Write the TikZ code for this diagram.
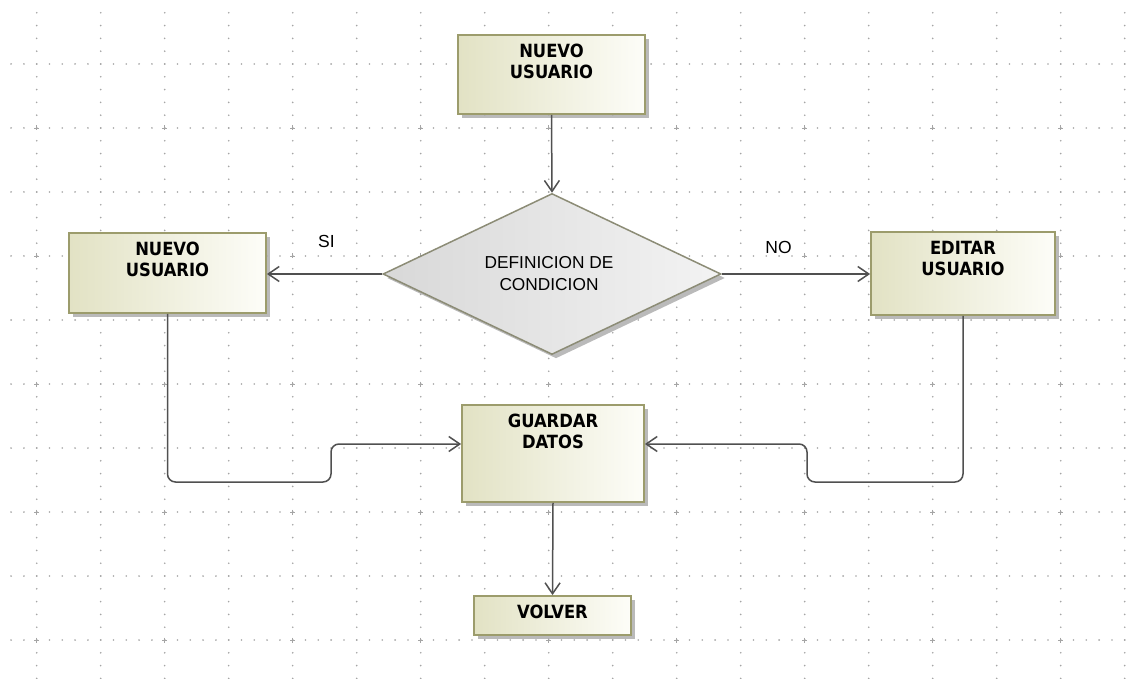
\documentclass[tikz,border=0pt]{standalone}
\usepackage{fontspec}
\setmainfont{Liberation Sans}
\newfontfamily\condbold{DejaVu Sans Condensed}[BoldFont={* Bold}]
\usetikzlibrary{shapes.geometric,arrows.meta,shadows}
\definecolor{dotc}{RGB}{165,165,165}
\definecolor{boxedge}{RGB}{156,156,108}
\definecolor{boxl}{RGB}{226,226,196}
\definecolor{boxr}{RGB}{253,253,248}
\definecolor{diaedge}{RGB}{140,140,118}
\definecolor{dial}{RGB}{216,216,216}
\definecolor{diar}{RGB}{243,243,243}
\definecolor{linec}{RGB}{80,80,80}
\definecolor{shadowc}{RGB}{175,175,175}
\begin{document}
\begin{tikzpicture}[x=1pt,y=-1pt,
  box/.style={rectangle, draw=boxedge, line width=1.8pt, left color=boxl, right color=boxr,
    inner sep=0pt, drop shadow={shadow xshift=4pt, shadow yshift=-4pt, fill=shadowc, opacity=0.85}},
  boxtext/.style={anchor=north, inner sep=0pt, yshift=-9.5pt, align=center,
    font=\condbold\fontsize{18.2}{21.5}\selectfont\bfseries},
  decision/.style={diamond, draw=diaedge, line width=1.5pt, left color=dial, right color=diar,
    inner sep=0pt, minimum width=338pt, minimum height=161pt, align=center,
    font=\fontsize{17.3}{22}\selectfont,
    drop shadow={shadow xshift=4pt, shadow yshift=-4pt, fill=shadowc, opacity=0.85}},
  lbl/.style={inner sep=0pt, anchor=base, font=\fontsize{17.5}{21}\selectfont},
  conn/.style={draw=linec, line width=1.5pt, -{Straight Barb[length=11pt,width=15pt]}},
  elbow/.style={conn, rounded corners=8pt}
]
\useasboundingbox (0,0) rectangle (1128,679);
\fill[white] (0,0) rectangle (1128,679);
% dotted grid
\foreach \i in {0,...,17}{
  \foreach \j in {1,...,53}{
    \fill[dotc] ({36.7+64*\i},{12.8*\j}) circle[radius=0.9];
  }
}
\foreach \j in {1,...,10}{
  \foreach \k in {0,...,87}{
    \fill[dotc] ({11.1+12.8*\k},{64*\j}) circle[radius=0.9];
  }
}
\foreach \i in {0,...,8}{
  \foreach \j in {1,...,5}{
    \draw[dotc, line width=0.9pt] ({36.7+128*\i-2.5},{128*\j}) -- ({36.7+128*\i+2.5},{128*\j})
      ({36.7+128*\i},{128*\j-2.5}) -- ({36.7+128*\i},{128*\j+2.5});
  }
}
% nodes
\node[box, minimum width=187pt, minimum height=79pt, label={[boxtext]north:{NUEVO\\USUARIO}}] (nt) at (551.5,74.5) {};
\node[decision] (dia) at (552,274) {\hspace*{-6pt}DEFINICION DE\\\hspace*{-6pt}CONDICION};
\node[box, minimum width=197pt, minimum height=80pt, label={[boxtext]north:{NUEVO\\USUARIO}}] (nl) at (167.5,273) {};
\node[box, minimum width=184pt, minimum height=83pt, label={[boxtext]north:{EDITAR\\USUARIO}}] (ne) at (963,273.5) {};
\node[box, minimum width=182pt, minimum height=97pt, label={[boxtext]north:{GUARDAR\\DATOS}}] (gd) at (553,453.5) {};
\node[box, minimum width=157pt, minimum height=39pt, label={[boxtext]north:{VOLVER}}] (vo) at (552.5,615.5) {};
\node[lbl] (si) at (326.5,248) {SI};
\node[lbl] (no) at (778.5,254) {NO};
% connectors
\draw[conn] (nt.south) -- (dia.north);
\draw[conn] (dia.west) -- (dia.west -| nl.east);
\draw[conn] (dia.east) -- (dia.east -| ne.west);
\draw[elbow] (nl.south) |- (331,482) |- ([yshift=9.5pt]gd.west);
\draw[elbow] (ne.south) |- (807,482) |- ([yshift=9.5pt]gd.east);
\draw[conn] (gd.south) -- (vo.north);
\end{tikzpicture}
\end{document}
